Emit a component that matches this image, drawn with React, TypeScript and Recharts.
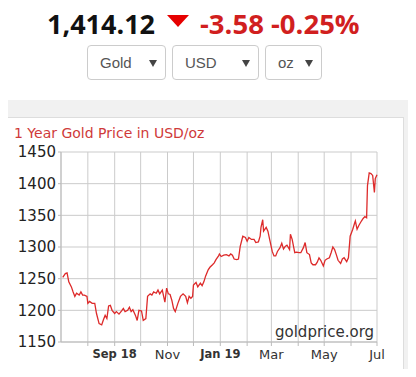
import { LineChart, Line, XAxis, YAxis, CartesianGrid } from 'recharts';

// days counted from 1 Jul 2018
const days = [
  2, 5, 7, 9, 12, 14, 16, 18, 21, 23,
  25, 27, 30, 31, 33, 36, 39, 41, 44, 47,
  49, 51, 53, 55, 57, 59, 62, 64, 67, 70,
  72, 74, 77, 79, 81, 83, 86, 88, 90, 93,
  95, 98, 100, 103, 105, 107, 110, 112, 114, 117,
  120, 122, 124, 126, 128, 130, 132, 135, 138, 141,
  144, 146, 148, 150, 152, 153, 156, 158, 161, 163,
  165, 167, 170, 172, 175, 177, 179, 182, 183, 185,
  188, 191, 194, 196, 198, 200, 203, 205, 207, 210,
  213, 215, 217, 220, 223, 225, 228, 230, 231, 233,
  234, 237, 239, 241, 244, 246, 248, 250, 253, 255,
  257, 259, 261, 264, 265, 267, 270, 272, 275, 277,
  280, 282, 284, 287, 289, 291, 294, 296, 298, 300,
  303, 305, 307, 310, 312, 314, 316, 318, 320, 323,
  325, 327, 330, 332, 334, 337, 339, 340, 342, 344,
  347, 349, 351, 353, 354, 356, 358, 360, 362, 363,
  365,
];

const prices = [
  1252, 1258, 1259, 1245, 1237, 1229, 1222, 1227, 1224, 1229,
  1224, 1224, 1222, 1211, 1214, 1211, 1211, 1195, 1179, 1177,
  1185, 1192, 1187, 1207, 1208, 1200, 1195, 1198, 1194, 1199,
  1203, 1198, 1200, 1205, 1198, 1201, 1192, 1184, 1200, 1199,
  1184, 1187, 1222, 1226, 1224, 1229, 1227, 1232, 1226, 1232,
  1213, 1235, 1226, 1225, 1216, 1203, 1198, 1211, 1222, 1226,
  1222, 1212, 1222, 1219, 1222, 1240, 1244, 1237, 1243, 1239,
  1245, 1254, 1264, 1268, 1272, 1275, 1280, 1286, 1289, 1285,
  1287, 1288, 1286, 1289, 1287, 1281, 1280, 1281, 1301, 1317,
  1315, 1309, 1315, 1312, 1312, 1307, 1308, 1317, 1331, 1343,
  1325, 1331, 1325, 1312, 1293, 1286, 1286, 1293, 1299, 1306,
  1297, 1301, 1303, 1296, 1320, 1312, 1291, 1292, 1291, 1291,
  1299, 1307, 1291, 1288, 1275, 1272, 1272, 1276, 1283, 1279,
  1270, 1279, 1281, 1283, 1291, 1300, 1296, 1288, 1279, 1274,
  1281, 1283, 1277, 1283, 1317, 1328, 1337, 1341, 1328, 1334,
  1341, 1345, 1348, 1346, 1397, 1417, 1416, 1413, 1386, 1408,
  1414,
];

const monthTicks = [31, 62, 92, 123, 153, 184, 215, 243, 274, 304, 335, 365];
const monthLabels = ['', 'Sep 18', '', 'Nov', '', 'Jan 19', '', 'Mar', '', 'May', '', 'Jul'];
const priceTicks = [1150, 1200, 1250, 1300, 1350, 1400, 1450];

const units = ['Gold', 'USD', 'oz'];

const data = days.map((d, i) => ({ day: d, price: prices[i] }));

const XTick = (props: any) => {
  const { x, y, payload } = props;
  const label = monthLabels[monthTicks.indexOf(payload.value)] || '';
  const bold = /\d/.test(label);
  return (
    <text
      x={x}
      y={y}
      dy="0.71em"
      textAnchor="middle"
      fontSize={bold ? 11.5 : 13}
      fontWeight={bold ? 'bold' : 'normal'}
      fill="#333"
      fontFamily="DejaVu Sans"
    >
      {label}
    </text>
  );
};

function Select({ left, width, label }: { left: number; width: number; label: string }) {
  return (
    <div
      style={{
        position: 'absolute',
        left,
        top: 45,
        width,
        height: 35,
        boxSizing: 'border-box',
        border: '1px solid #ccc',
        borderRadius: 4,
        background: '#fff',
      }}
    >
      <span
        style={{
          position: 'absolute',
          left: 12,
          top: 8,
          fontFamily: 'Liberation Sans',
          fontSize: 15,
          lineHeight: '17px',
          color: '#555',
        }}
      >
        {label}
      </span>
      <div
        style={{
          position: 'absolute',
          right: 8,
          top: 14,
          width: 0,
          height: 0,
          borderLeft: '4px solid transparent',
          borderRight: '4px solid transparent',
          borderTop: '7px solid #444',
        }}
      />
    </div>
  );
}

export default function App() {
  const selLefts = [87, 172, 265];
  const selWidths = [79, 87, 57];
  return (
    <div style={{ position: 'relative', width: 416, height: 377, margin: -8, background: '#fff', overflow: 'hidden' }}>
      <div style={{ position: 'absolute', left: 0, top: 100, width: 416, height: 277, background: '#f1f1f1' }} />
      <div
        style={{
          position: 'absolute',
          left: 4,
          top: 117,
          width: 400,
          height: 253,
          boxSizing: 'border-box',
          border: '1px solid #ddd',
          background: '#fff',
        }}
      />
      <span
        style={{
          position: 'absolute',
          left: 47,
          top: 6,
          fontFamily: 'Open Sans',
          fontWeight: 'bold',
          fontSize: 27,
          lineHeight: '36px',
          color: '#111',
        }}
      >
        1,414.12
      </span>
      <div
        style={{
          position: 'absolute',
          left: 167,
          top: 15,
          width: 0,
          height: 0,
          borderLeft: '11px solid transparent',
          borderRight: '11px solid transparent',
          borderTop: '12px solid #e60000',
        }}
      />
      <span
        style={{
          position: 'absolute',
          left: 200,
          top: 6,
          fontFamily: 'Open Sans',
          fontWeight: 'bold',
          fontSize: 27.5,
          lineHeight: '36px',
          color: '#d11f1f',
          whiteSpace: 'pre',
        }}
      >
        -3.58 -0.25%
      </span>
      {units.map((u, i) => (
        <Select key={u} left={selLefts[i]} width={selWidths[i]} label={u} />
      ))}
      <span
        style={{
          position: 'absolute',
          left: 14,
          top: 125,
          fontFamily: 'DejaVu Sans',
          fontSize: 14,
          lineHeight: '16px',
          color: '#cf3a3a',
        }}
      >
        1 Year Gold Price in USD/oz
      </span>
      <div style={{ position: 'absolute', left: 0, top: 0 }}>
        <LineChart width={416} height={377} data={data} margin={{ top: 152, right: 39, bottom: 10, left: 11 }}>
          <CartesianGrid stroke="#cbcbcb" />
          <XAxis
            dataKey="day"
            type="number"
            domain={[0, 365]}
            ticks={monthTicks}
            interval={0}
            height={25}
            tick={<XTick />}
            tickSize={4}
            tickMargin={4}
            stroke="#bbb"
          />
          <YAxis
            type="number"
            domain={[1150, 1450]}
            ticks={priceTicks}
            interval={0}
            width={50}
            tickSize={3}
            tickMargin={2}
            stroke="#bbb"
            tick={{ fill: '#222', fontSize: 15, fontFamily: 'DejaVu Sans' }}
          />
          <Line
            type="linear"
            dataKey="price"
            stroke="#dd2a2a"
            strokeWidth={1.3}
            dot={false}
            isAnimationActive={false}
          />
        </LineChart>
      </div>
      <span
        style={{
          position: 'absolute',
          left: 275,
          top: 323,
          fontFamily: 'DejaVu Sans',
          fontSize: 15,
          lineHeight: '18px',
          color: '#333',
        }}
      >
        goldprice.org
      </span>
    </div>
  );
}
